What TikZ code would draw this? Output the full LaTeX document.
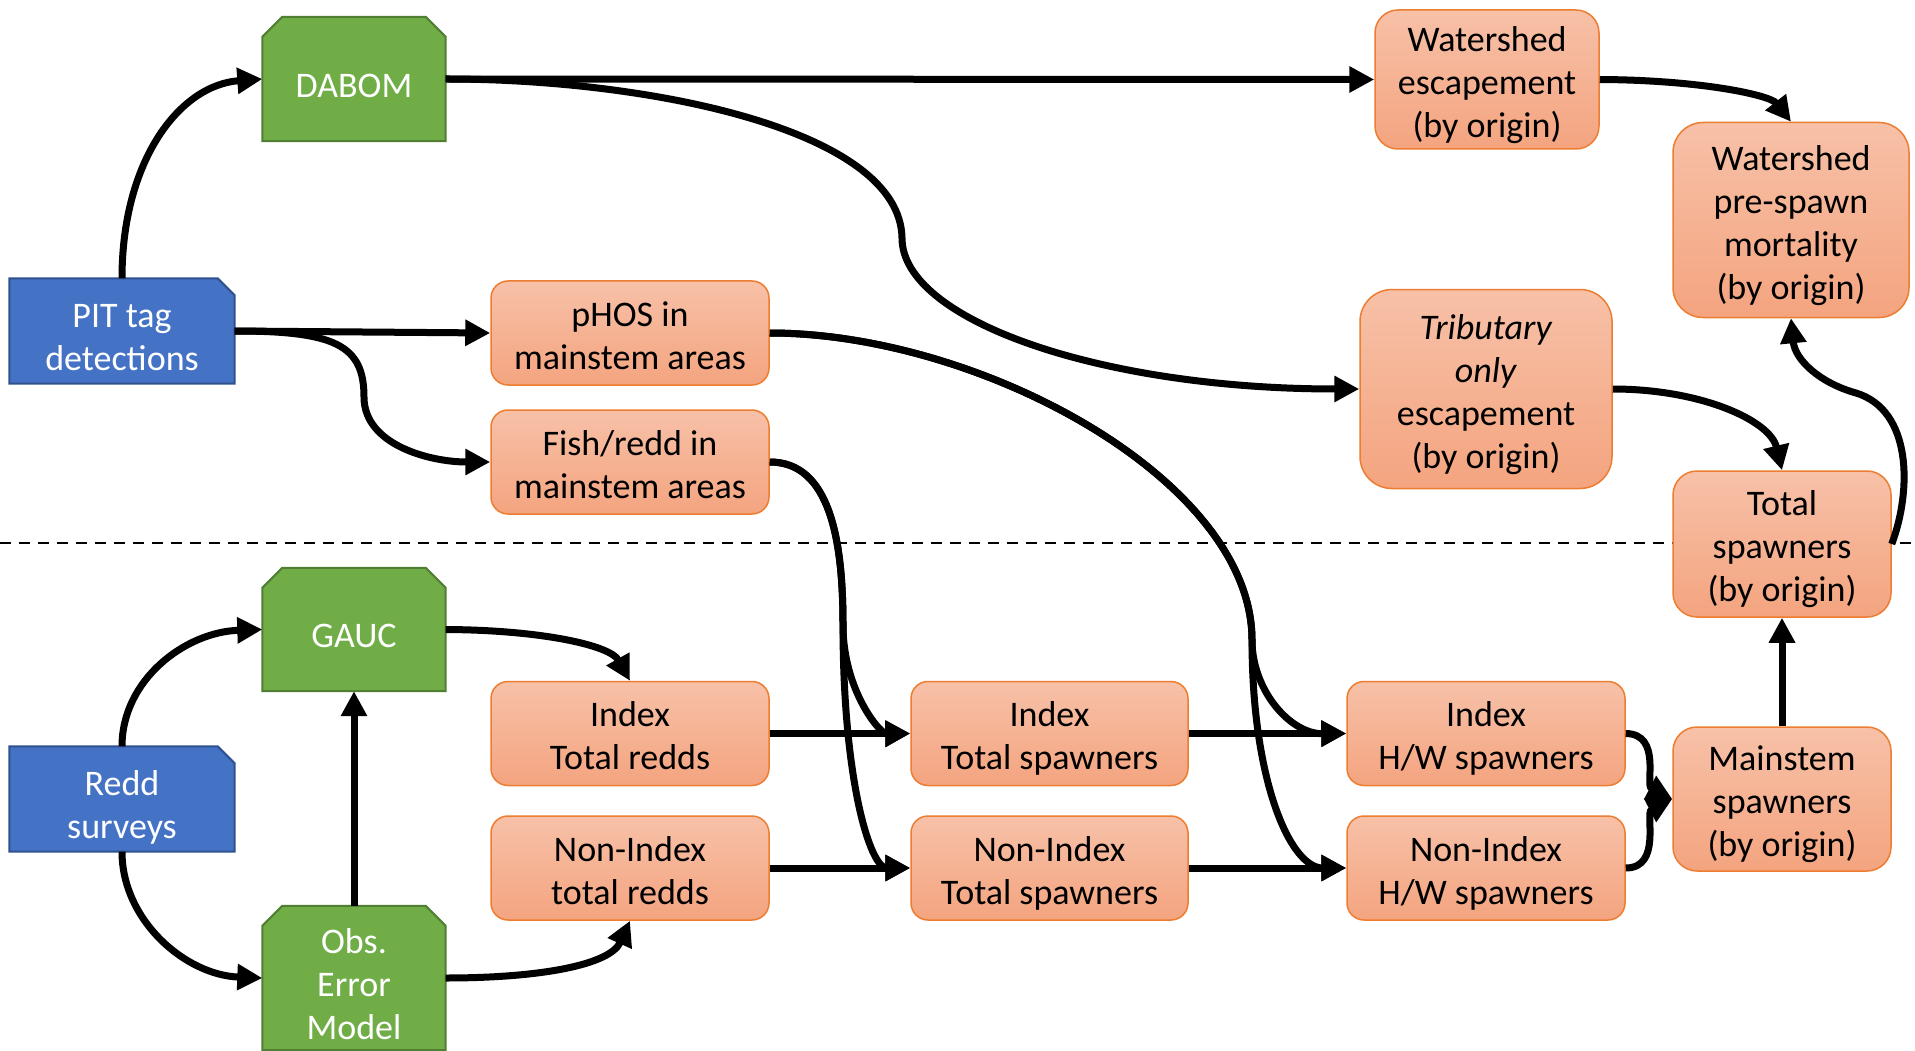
\documentclass[tikz,border=0pt]{standalone}
\usepackage{fontspec}
\setmainfont{Carlito}
\usetikzlibrary{arrows.meta,backgrounds}
\definecolor{gfill}{HTML}{70AD47}
\definecolor{gline}{HTML}{507E32}
\definecolor{bfill}{HTML}{4472C4}
\definecolor{bline}{HTML}{2F528F}
\definecolor{otop}{HTML}{F7C1A8}
\definecolor{obot}{HTML}{F4A47F}
\definecolor{oline}{HTML}{ED7D31}
\newcommand{\myTopO}{\rule{0pt}{38pt}}
\newcommand{\myTopG}{\rule{0pt}{45pt}}
\newcommand{\myBot}{\rule[-8.75pt]{0pt}{8.75pt}}
\begin{document}
\begin{tikzpicture}[x=1pt,y=-1pt,
 txt/.style={font=\fontsize{36}{43}\selectfont, align=center, inner sep=0pt},
 gbox/.style={txt, text=white, minimum width=183pt},
 bbox/.style={txt, text=white, minimum width=225pt, minimum height=105pt},
 obox/.style={txt, draw=oline, line width=1.5pt, top color=otop, bottom color=obot, rounded corners=#1},
 obox/.default=17pt,
 conn/.style={line width=7pt, -{Triangle[length=25pt,width=25pt]}},
 divider/.style={line width=2.5pt, dash pattern=on 11pt off 8pt}
]
\path[use as bounding box] (0,0) rectangle (1915,1051);
% divider
\coordinate (dl) at (0,543);
\coordinate (dr) at (1915,543);
\draw[divider] (dl) -- (dr);

% green model nodes
\node[gbox, minimum height=124pt] (dabom) at (354,79) {\myTopG DABOM\myBot};
\node[gbox, minimum height=123pt] (gauc) at (354,629.5) {\myTopG GAUC\myBot};
\node[gbox, minimum height=144pt] (obs) at (354,978) {\myTopG Obs.\\Error\\Model\myBot};
% blue data nodes
\node[bbox] (pit) at (122,331) {\myTopG PIT tag\\detections\myBot};
\node[bbox] (redd) at (122,799) {\myTopG Redd\\surveys\myBot};
% orange nodes
\node[obox, minimum width=278pt, minimum height=104pt] (phos) at (630,333) {\myTopO pHOS in\\mainstem areas\myBot};
\node[obox, minimum width=278pt, minimum height=104pt] (fish) at (630,462) {\myTopO Fish/redd in\\mainstem areas\myBot};
\node[obox, minimum width=278pt, minimum height=104pt] (itr) at (630,733.5) {\myTopO Index\\Total redds\myBot};
\node[obox, minimum width=278pt, minimum height=104pt] (nitr) at (630,868) {\myTopO Non-Index\\total redds\myBot};
\node[obox, minimum width=277pt, minimum height=104pt] (its) at (1049.5,733.5) {\myTopO Index\\Total spawners\myBot};
\node[obox, minimum width=277pt, minimum height=104pt] (nits) at (1049.5,868) {\myTopO Non-Index\\Total spawners\myBot};
\node[obox, minimum width=278pt, minimum height=104pt] (ihw) at (1486,733.5) {\myTopO Index\\H/W spawners\myBot};
\node[obox, minimum width=278pt, minimum height=104pt] (nihw) at (1486,868) {\myTopO Non-Index\\H/W spawners\myBot};
\node[obox=24pt, minimum width=218pt, minimum height=144pt] (ms) at (1782,799) {\myTopO Mainstem\\spawners\\(by origin)\myBot};
\node[obox=24pt, minimum width=218pt, minimum height=146pt] (ts) at (1782,544) {\myTopO Total\\spawners\\(by origin)\myBot};
\node[obox=23pt, minimum width=224pt, minimum height=139pt] (wse) at (1487,79.5) {\myTopO Watershed\\escapement\\(by origin)\myBot};
\node[obox=30pt, minimum width=236pt, minimum height=195pt] (wpm) at (1791,220) {\myTopO Watershed\\pre-spawn\\mortality\\(by origin)\myBot};
\node[obox=32pt, minimum width=252pt, minimum height=199pt] (trib) at (1486,389) {\myTopO\textit{Tributary}\\\textit{only}\\escapement\\(by origin)\myBot};

% shaped fills behind the text nodes
\begin{scope}[on background layer]
\fill[white] (0,0) rectangle (1915,1051);
\foreach \n in {dabom,gauc,obs}{
 \filldraw[fill=gfill, draw=gline, line width=2pt] (\n.south west) -- ([yshift=-20pt]\n.north west) -- ([xshift=20pt]\n.north west) -- ([xshift=-20pt]\n.north east) -- ([yshift=-20pt]\n.north east) -- (\n.south east) -- cycle;}
\foreach \n in {pit,redd}{
 \filldraw[fill=bfill, draw=bline, line width=2pt] (\n.south west) -- (\n.north west) -- ([xshift=-17pt]\n.north east) -- ([yshift=-17pt]\n.north east) -- (\n.south east) -- cycle;}
\end{scope}

% connectors
\draw[conn] (pit.north) .. controls (122,160) and (180,85) .. (dabom.west);
\draw[conn] (dabom.east) -- (wse.west);
\draw[conn] (dabom.east) .. controls (650,79) and (900,130) .. (902,238) .. controls (902,320) and (1100,389) .. (trib.west);
\draw[conn] (wse.east) .. controls (1700,80) and (1770,95) .. (wpm.north);
\draw[conn] (trib.east) .. controls (1700,389) and (1770,420) .. (ts.north);
\draw[conn] (ts.east) .. controls (1912,490) and (1912,410) .. (1856,393) .. controls (1820,383) and (1795,360) .. (wpm.south);
\draw[conn] (pit.east) -- (phos.west);
\draw[conn] (pit.east) .. controls (335,331) and (364,345) .. (364,397) .. controls (364,445) and (430,462) .. (fish.west);
\draw[conn] (phos.east) .. controls (980,333) and (1252,480) .. (1252,640) .. controls (1252,690) and (1290,734) .. (ihw.west);
\draw[conn] (phos.east) .. controls (980,333) and (1252,480) .. (1252,640) .. controls (1252,780) and (1290,868) .. (nihw.west);
\draw[conn] (fish.east) .. controls (830,462) and (843,540) .. (843,625) .. controls (843,690) and (880,734) .. (its.west);
\draw[conn] (fish.east) .. controls (830,462) and (843,540) .. (843,625) .. controls (843,780) and (870,868) .. (nits.west);
\draw[conn] (gauc.east) .. controls (540,630) and (610,645) .. (itr.north);
\draw[conn] (obs.east) .. controls (540,978) and (610,965) .. (nitr.south);
\draw[conn] (obs.north) -- (gauc.south);
\draw[conn] (redd.north) .. controls (122,680) and (185,632) .. (gauc.west);
\draw[conn] (redd.south) .. controls (122,920) and (185,975) .. (obs.west);
\draw[conn] (itr.east) -- (its.west);
\draw[conn] (nitr.east) -- (nits.west);
\draw[conn] (its.east) -- (ihw.west);
\draw[conn] (nits.east) -- (nihw.west);
\draw[conn] (ihw.east) .. controls (1662,734) and (1645,785) .. (ms.west);
\draw[conn] (nihw.east) .. controls (1662,868) and (1645,813) .. (ms.west);
\draw[conn] (ms.north) -- (ts.south);
\end{tikzpicture}
\end{document}
